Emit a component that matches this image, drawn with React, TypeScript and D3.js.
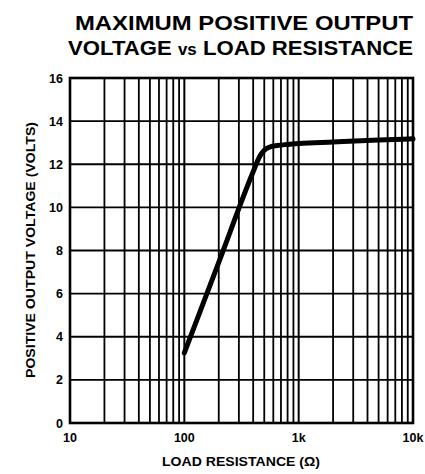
import React from 'react';
import * as d3 from 'd3';

// Curve (ohms, volts)
const loadResistance = [100, 200, 400, 455, 500, 560, 650, 800, 1000, 2000, 5000, 10000];
const outputVoltage = [3.25, 7.45, 11.65, 12.35, 12.65, 12.8, 12.87, 12.92, 12.96, 13.03, 13.12, 13.18];

const xMajorTicks = [10, 100, 1000, 10000];
const xTickLabels = ['10', '100', '1k', '10k'];
const yTicks = [0, 2, 4, 6, 8, 10, 12, 14, 16];

const App: React.FC = () => {
  const width = 425;
  const height = 474;
  const margin = { left: 70, right: 12, top: 78, bottom: 51 };

  const x = d3.scaleLog().domain([10, 10000]).range([margin.left, width - margin.right]);
  const y = d3.scaleLinear().domain([0, 16]).range([height - margin.bottom, margin.top]);

  // minor decade lines 2..9 in each decade
  const minorTicks: number[] = [];
  for (let d = 10; d < 10000; d *= 10) {
    for (let m = 2; m <= 9; m++) minorTicks.push(d * m);
  }

  const points: [number, number][] = loadResistance.map((r, i) => [x(r), y(outputVoltage[i])]);
  const line = d3.line().curve(d3.curveMonotoneX)(points) || '';

  const font = 'Liberation Sans, Arial, Helvetica, sans-serif';
  const x0 = x.range()[0];
  const x1 = x.range()[1];
  const y0 = y.range()[0];
  const y1 = y.range()[1];

  return (
    <svg
      width={width}
      height={height}
      style={{ position: 'absolute', left: 0, top: 0, background: '#fff' }}
      fontFamily={font}
    >
      {/* Title */}
      <text x={413} y={30} textAnchor="end" fontSize={21} fontWeight="bold" textLength={338} lengthAdjust="spacingAndGlyphs">
        MAXIMUM POSITIVE OUTPUT
      </text>
      <text x={413} y={55} textAnchor="end" fontSize={21} fontWeight="bold" textLength={345} lengthAdjust="spacingAndGlyphs">
        VOLTAGE <tspan fontSize={16}>vs</tspan> LOAD RESISTANCE
      </text>

      {/* Grid */}
      {minorTicks.map((t) => (
        <line key={`v${t}`} x1={x(t)} x2={x(t)} y1={y1} y2={y0} stroke="#000" strokeWidth={1.8} />
      ))}
      {xMajorTicks.map((t) => (
        <line key={`m${t}`} x1={x(t)} x2={x(t)} y1={y1} y2={y0} stroke="#000" strokeWidth={2} />
      ))}
      {yTicks.map((t) => (
        <line key={`h${t}`} x1={x0} x2={x1} y1={y(t)} y2={y(t)} stroke="#000" strokeWidth={1.8} />
      ))}
      <rect x={x0} y={y1} width={x1 - x0} height={y0 - y1} fill="none" stroke="#000" strokeWidth={2.6} />

      {/* Curve */}
      <path d={line} fill="none" stroke="#000" strokeWidth={5} strokeLinecap="round" strokeLinejoin="round" />

      {/* Y ticks */}
      {yTicks.map((t) => (
        <text key={`yl${t}`} x={63} y={y(t) + 4.5} textAnchor="end" fontSize={12.5} fontWeight="bold">
          {t}
        </text>
      ))}

      {/* X ticks */}
      {xMajorTicks.map((t, i) => (
        <text key={`xl${t}`} x={x(t)} y={442} textAnchor="middle" fontSize={12.5} fontWeight="bold">
          {xTickLabels[i]}
        </text>
      ))}

      {/* Axis labels */}
      <text x={241} y={466} textAnchor="middle" fontSize={13} fontWeight="bold" textLength={158} lengthAdjust="spacingAndGlyphs">
        LOAD RESISTANCE (Ω)
      </text>
      <text
        transform={`translate(35, 250) rotate(-90)`}
        textAnchor="middle"
        fontSize={13}
        fontWeight="bold"
        textLength={256}
        lengthAdjust="spacingAndGlyphs"
      >
        POSITIVE OUTPUT VOLTAGE (VOLTS)
      </text>
    </svg>
  );
};

export default App;
